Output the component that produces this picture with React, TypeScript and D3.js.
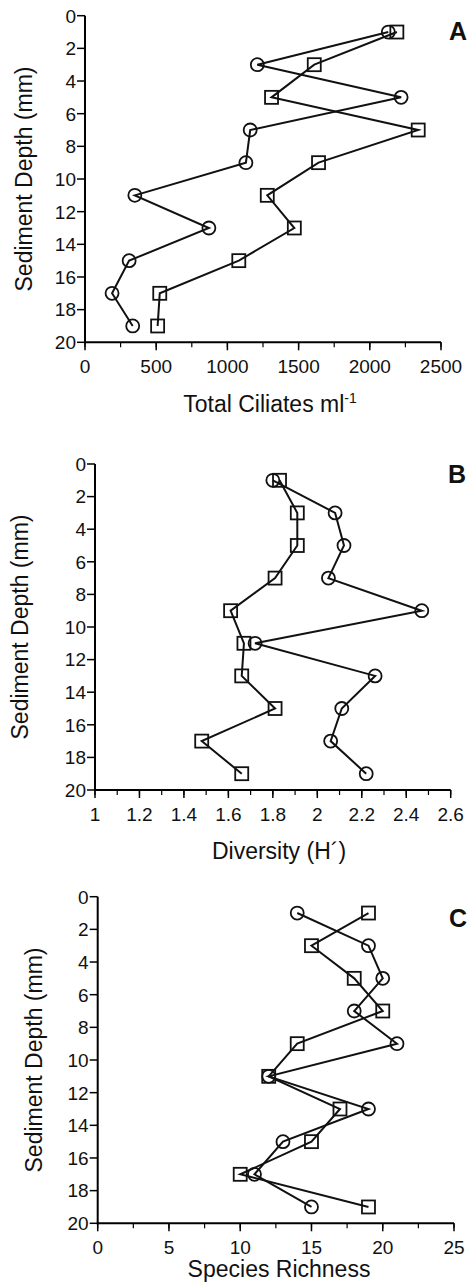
import React from 'react';
import * as d3 from 'd3';

// depth of each sample (mm)
const depths = [1, 3, 5, 7, 9, 11, 13, 15, 17, 19];

// A - total ciliates per ml
const ciliatesCircle = [2130, 1210, 2220, 1160, 1130, 350, 870, 310, 190, 335];
const ciliatesSquare = [2190, 1610, 1310, 2340, 1640, 1280, 1470, 1080, 525, 510];

// B - diversity (H')
const diversityCircle = [1.8, 2.08, 2.12, 2.05, 2.47, 1.72, 2.26, 2.11, 2.06, 2.22];
const diversitySquare = [1.83, 1.91, 1.91, 1.81, 1.61, 1.67, 1.66, 1.81, 1.48, 1.66];

// C - species richness
const richnessCircle = [14, 19, 20, 18, 21, 12, 19, 13, 11, 15];
const richnessSquare = [19, 15, 18, 20, 14, 12, 17, 15, 10, 19];

const depthTicks = [0, 2, 4, 6, 8, 10, 12, 14, 16, 18, 20];
const ciliateTicks = [0, 500, 1000, 1500, 2000, 2500];
const diversityTicks = [1, 1.2, 1.4, 1.6, 1.8, 2, 2.2, 2.4, 2.6];
const richnessTicks = [0, 5, 10, 15, 20, 25];

const FONT = 'Liberation Sans, Arial, Helvetica, sans-serif';

type PanelProps = {
  circle: number[];
  square: number[];
  xTicks: number[];
  minorStep: number;
  box: { x0: number; x1: number; y0: number; y1: number };
  title: React.ReactNode;
  titlePos: [number, number];
  yTitleX: number;
  letter: string;
  letterPos: [number, number];
};

function Panel(p: PanelProps) {
  const { box } = p;
  const xMin = p.xTicks[0];
  const xMax = p.xTicks[p.xTicks.length - 1];
  const x = d3.scaleLinear().domain([xMin, xMax]).range([box.x0, box.x1]);
  const y = d3.scaleLinear().domain([0, 20]).range([box.y0, box.y1]);
  const minor = d3.range(xMin, xMax + p.minorStep / 2, p.minorStep);
  const line = d3
    .line<number>()
    .x((d) => x(d))
    .y((_, i) => y(depths[i]));
  const fmt = (v: number) => String(+v.toFixed(1));

  return (
    <g fontFamily={FONT}>
      {/* axes */}
      <line x1={box.x0} x2={box.x0} y1={box.y0} y2={box.y1 + 1} stroke="#000" strokeWidth={2} />
      <line x1={box.x0 - 1} x2={box.x1} y1={box.y1} y2={box.y1} stroke="#000" strokeWidth={2} />
      {depthTicks.map((t) => (
        <g key={'y' + t}>
          <line x1={box.x0 - 8} x2={box.x0} y1={y(t)} y2={y(t)} stroke="#000" strokeWidth={1.5} />
          <text x={box.x0 - 9} y={y(t)} dy="0.36em" textAnchor="end" fontSize={19} fill="#111">
            {t}
          </text>
        </g>
      ))}
      {minor.map((t, i) => (
        <line
          key={'m' + i}
          x1={x(t)}
          x2={x(t)}
          y1={box.y1}
          y2={box.y1 + 5}
          stroke="#000"
          strokeWidth={1.2}
        />
      ))}
      {p.xTicks.map((t) => (
        <g key={'x' + t}>
          <line x1={x(t)} x2={x(t)} y1={box.y1} y2={box.y1 + 8} stroke="#000" strokeWidth={1.5} />
          <text x={x(t)} y={box.y1 + 31} textAnchor="middle" fontSize={19} fill="#111">
            {fmt(t)}
          </text>
        </g>
      ))}

      {/* series */}
      <path d={line(p.circle) || ''} fill="none" stroke="#111" strokeWidth={2} />
      <path d={line(p.square) || ''} fill="none" stroke="#111" strokeWidth={2} />
      {p.circle.map((v, i) => (
        <circle key={'c' + i} cx={x(v)} cy={y(depths[i])} r={6.5} fill="none" stroke="#111" strokeWidth={1.8} />
      ))}
      {p.square.map((v, i) => (
        <rect
          key={'s' + i}
          x={x(v) - 6.5}
          y={y(depths[i]) - 6.5}
          width={13}
          height={13}
          fill="none"
          stroke="#111"
          strokeWidth={1.8}
        />
      ))}

      {/* titles */}
      <text x={p.titlePos[0]} y={p.titlePos[1]} textAnchor="middle" fontSize={23} fill="#111">
        {p.title}
      </text>
      <text
        transform={`translate(${p.yTitleX},${(box.y0 + box.y1) / 2}) rotate(-90)`}
        textAnchor="middle"
        fontSize={23}
        fill="#111"
      >
        Sediment Depth (mm)
      </text>
      <text
        x={p.letterPos[0]}
        y={p.letterPos[1]}
        textAnchor="end"
        fontSize={25}
        fontWeight="bold"
        fill="#111"
      >
        {p.letter}
      </text>
    </g>
  );
}

export default function App() {
  return (
    <svg
      width={468}
      height={1285}
      style={{ position: 'absolute', left: 0, top: 0, display: 'block', background: '#fff' }}
    >
      <rect width={468} height={1285} fill="#fff" />
      <Panel
        circle={ciliatesCircle}
        square={ciliatesSquare}
        xTicks={ciliateTicks}
        minorStep={250}
        box={{ x0: 85, x1: 441, y0: 15.7, y1: 342.3 }}
        title={
          <>
            Total Ciliates ml
            <tspan fontSize={14} dy={-9}>
              -1
            </tspan>
          </>
        }
        titlePos={[270, 412]}
        yTitleX={32}
        letter="A"
        letterPos={[467, 40]}
      />
      <Panel
        circle={diversityCircle}
        square={diversitySquare}
        xTicks={diversityTicks}
        minorStep={0.1}
        box={{ x0: 95, x1: 450.7, y0: 464, y1: 790 }}
        title="Diversity (H´)"
        titlePos={[279, 859]}
        yTitleX={28}
        letter="B"
        letterPos={[466, 483]}
      />
      <Panel
        circle={richnessCircle}
        square={richnessSquare}
        xTicks={richnessTicks}
        minorStep={2.5}
        box={{ x0: 97.7, x1: 454, y0: 896.7, y1: 1223.3 }}
        title="Species Richness"
        titlePos={[279, 1277]}
        yTitleX={42}
        letter="C"
        letterPos={[467, 927]}
      />
    </svg>
  );
}
